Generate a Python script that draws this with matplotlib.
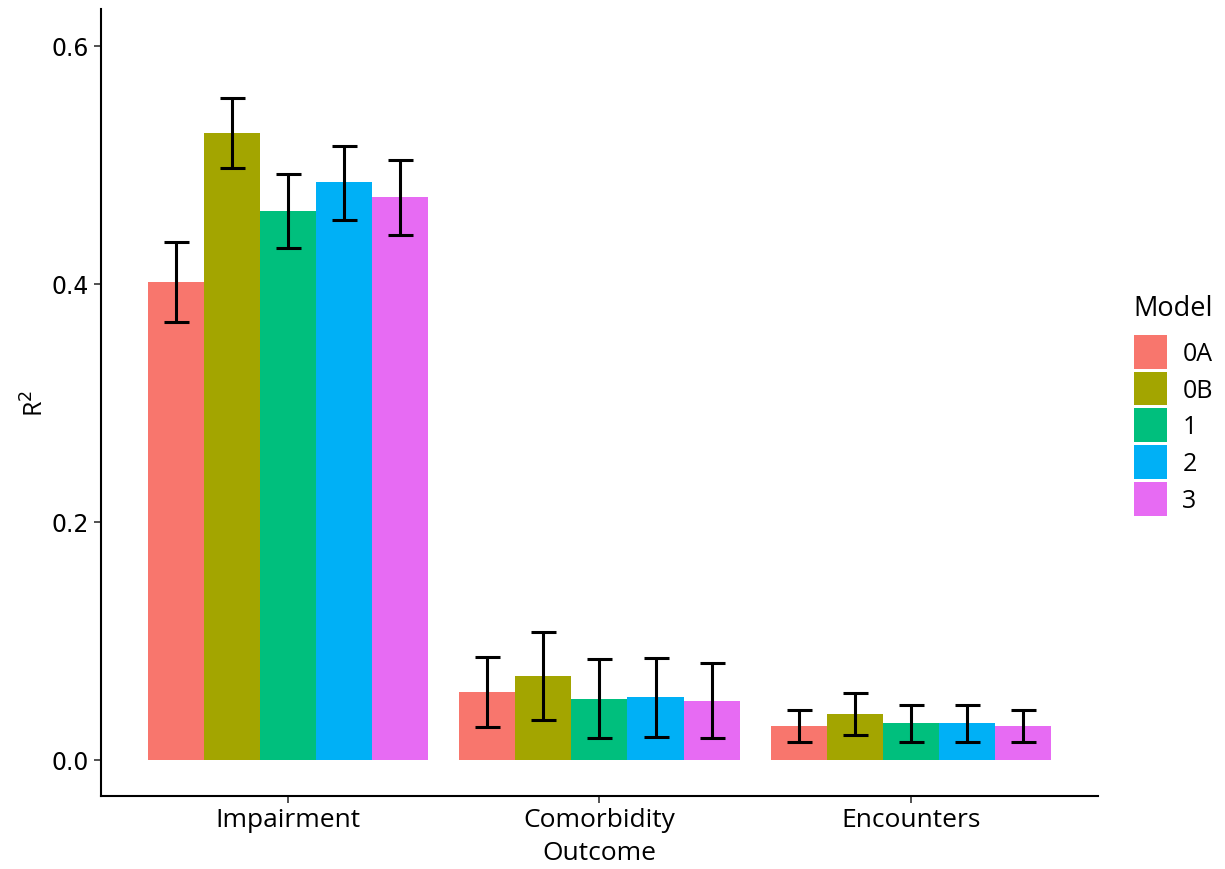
import matplotlib.pyplot as plt
import numpy as np

# outcomes and models
outcomes = ['Impairment', 'Comorbidity', 'Encounters']
models = ['0A', '0B', '1', '2', '3']
colors = ['#F8766D', '#A3A500', '#00BF7D', '#00B0F6', '#E76BF3']

# R^2 per model, one list per model (Impairment, Comorbidity, Encounters)
r2 = {
    '0A': [0.402, 0.0569, 0.0288],
    '0B': [0.527, 0.0706, 0.0387],
    '1':  [0.461, 0.0515, 0.0308],
    '2':  [0.486, 0.0527, 0.0308],
    '3':  [0.473, 0.0496, 0.0288],
}
lower = {
    '0A': [0.368, 0.0275, 0.0154],
    '0B': [0.497, 0.0336, 0.0213],
    '1':  [0.430, 0.0187, 0.0154],
    '2':  [0.454, 0.0196, 0.0154],
    '3':  [0.441, 0.0185, 0.0154],
}
upper = {
    '0A': [0.435, 0.0863, 0.0423],
    '0B': [0.556, 0.1078, 0.0563],
    '1':  [0.492, 0.0849, 0.0465],
    '2':  [0.516, 0.0855, 0.0465],
    '3':  [0.504, 0.0813, 0.0423],
}

fig = plt.figure(figsize=(12.25, 8.7), dpi=100)
ax = fig.add_axes([0.0824, 0.0839, 0.8139, 0.9046])

x = np.arange(1, len(outcomes) + 1)
w = 0.9 / len(models)
handles = []
for j, m in enumerate(models):
    pos = x + (j - 2) * w
    vals = np.array(r2[m])
    err = [vals - np.array(lower[m]), np.array(upper[m]) - vals]
    b = ax.bar(pos, vals, width=w, color=colors[j], label=m)
    handles.append(b)
    ax.errorbar(pos, vals, yerr=err, fmt='none', ecolor='black',
                elinewidth=2.2, capsize=9, capthick=2.2)

ax.set_xlim(0.4, 3.6)
ax.set_ylim(-0.0303, 0.631)
ax.set_xticks(x)
ax.set_xticklabels(outcomes, fontsize=19, family='Open Sans')
ax.set_yticks([0.0, 0.2, 0.4, 0.6])
ax.set_yticklabels(['0.0', '0.2', '0.4', '0.6'], fontsize=17, family='DejaVu Sans')
ax.tick_params(axis='both', direction='out', length=5, width=1.2, color='#333333')
ax.tick_params(axis='x', pad=3)
ax.tick_params(axis='y', pad=4)

ax.spines['right'].set_color('none')
ax.spines['top'].set_color('none')
ax.spines['left'].set_linewidth(1.5)
ax.spines['bottom'].set_linewidth(1.5)

ax.set_xlabel('Outcome', fontsize=19, family='Open Sans', labelpad=6)
ax.set_ylabel('R$^2$', fontsize=18, family='Open Sans', labelpad=1)

# legend: title drawn separately so the gap above the keys matches
fig.text(1133 / 1225, 1 - 309 / 870, 'Model', fontsize=19.5, family='Open Sans',
         ha='left', va='center')
leg = fig.legend(handles=handles, labels=models,
                 loc='center left', bbox_to_anchor=(0.907, 0.51),
                 frameon=False,
                 handlelength=1.35, handleheight=1.7, labelspacing=0.12,
                 handletextpad=0.6, prop={'family': 'Open Sans', 'size': 18})

fig.savefig('out.png', dpi=100)
